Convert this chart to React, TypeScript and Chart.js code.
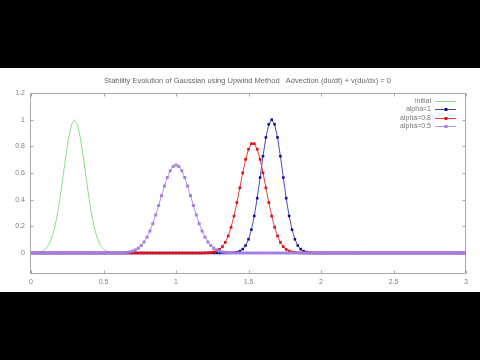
import { useEffect, useRef } from 'react';
import { Chart, registerables } from 'chart.js';

Chart.register(...registerables);

const titleText = 'Stability Evolution of Gaussian using Upwind Method   Advection (du/dt) + v(du/dx) = 0';
const seriesNames = ['initial', 'alpha=1', 'alpha=0.8', 'alpha=0.5'];
const xTicks = [0, 0.5, 1, 1.5, 2, 2.5, 3];
const yTicks = [0, 0.2, 0.4, 0.6, 0.8, 1, 1.2];

const xGrid = [
  0, 0.02, 0.04, 0.06, 0.08, 0.1, 0.12, 0.14, 0.16, 0.18,
  0.2, 0.22, 0.24, 0.26, 0.28, 0.3, 0.32, 0.34, 0.36, 0.38,
  0.4, 0.42, 0.44, 0.46, 0.48, 0.5, 0.52, 0.54, 0.56, 0.58,
  0.6, 0.62, 0.64, 0.66, 0.68, 0.7, 0.72, 0.74, 0.76, 0.78,
  0.8, 0.82, 0.84, 0.86, 0.88, 0.9, 0.92, 0.94, 0.96, 0.98,
  1, 1.02, 1.04, 1.06, 1.08, 1.1, 1.12, 1.14, 1.16, 1.18,
  1.2, 1.22, 1.24, 1.26, 1.28, 1.3, 1.32, 1.34, 1.36, 1.38,
  1.4, 1.42, 1.44, 1.46, 1.48, 1.5, 1.52, 1.54, 1.56, 1.58,
  1.6, 1.62, 1.64, 1.66, 1.68, 1.7, 1.72, 1.74, 1.76, 1.78,
  1.8, 1.82, 1.84, 1.86, 1.88, 1.9, 1.92, 1.94, 1.96, 1.98,
  2, 2.02, 2.04, 2.06, 2.08, 2.1, 2.12, 2.14, 2.16, 2.18,
  2.2, 2.22, 2.24, 2.26, 2.28, 2.3, 2.32, 2.34, 2.36, 2.38,
  2.4, 2.42, 2.44, 2.46, 2.48, 2.5, 2.52, 2.54, 2.56, 2.58,
  2.6, 2.62, 2.64, 2.66, 2.68, 2.7, 2.72, 2.74, 2.76, 2.78,
  2.8, 2.82, 2.84, 2.86, 2.88, 2.9, 2.92, 2.94, 2.96, 2.98,
  3,
];

const initialValues = [
  0, 0.001, 0.003, 0.006, 0.014, 0.029, 0.056, 0.103, 0.175, 0.278,
  0.411, 0.566, 0.726, 0.867, 0.965, 1, 0.965, 0.867, 0.726, 0.566,
  0.411, 0.278, 0.175, 0.103, 0.056, 0.029, 0.014, 0.006, 0.003, 0.001,
  0, 0, 0, 0, 0, 0, 0, 0, 0, 0,
  0, 0, 0, 0, 0, 0, 0, 0, 0, 0,
  0, 0, 0, 0, 0, 0, 0, 0, 0, 0,
  0, 0, 0, 0, 0, 0, 0, 0, 0, 0,
  0, 0, 0, 0, 0, 0, 0, 0, 0, 0,
  0, 0, 0, 0, 0, 0, 0, 0, 0, 0,
  0, 0, 0, 0, 0, 0, 0, 0, 0, 0,
  0, 0, 0, 0, 0, 0, 0, 0, 0, 0,
  0, 0, 0, 0, 0, 0, 0, 0, 0, 0,
  0, 0, 0, 0, 0, 0, 0, 0, 0, 0,
  0, 0, 0, 0, 0, 0, 0, 0, 0, 0,
  0, 0, 0, 0, 0, 0, 0, 0, 0, 0,
  0,
];

const alpha1Values = [
  0, 0, 0, 0, 0, 0, 0, 0, 0, 0,
  0, 0, 0, 0, 0, 0, 0, 0, 0, 0,
  0, 0, 0, 0, 0, 0, 0, 0, 0, 0,
  0, 0, 0, 0, 0, 0, 0, 0, 0, 0,
  0, 0, 0, 0, 0, 0, 0, 0, 0, 0,
  0, 0, 0, 0, 0, 0, 0, 0, 0, 0,
  0, 0, 0, 0, 0, 0, 0, 0, 0, 0.001,
  0.003, 0.006, 0.014, 0.029, 0.056, 0.103, 0.175, 0.278, 0.411, 0.566,
  0.726, 0.867, 0.965, 1, 0.965, 0.867, 0.726, 0.566, 0.411, 0.278,
  0.175, 0.103, 0.056, 0.029, 0.014, 0.006, 0.003, 0.001, 0, 0,
  0, 0, 0, 0, 0, 0, 0, 0, 0, 0,
  0, 0, 0, 0, 0, 0, 0, 0, 0, 0,
  0, 0, 0, 0, 0, 0, 0, 0, 0, 0,
  0, 0, 0, 0, 0, 0, 0, 0, 0, 0,
  0, 0, 0, 0, 0, 0, 0, 0, 0, 0,
  0,
];

const alpha08Values = [
  0, 0, 0, 0, 0, 0, 0, 0, 0, 0,
  0, 0, 0, 0, 0, 0, 0, 0, 0, 0,
  0, 0, 0, 0, 0, 0, 0, 0, 0, 0,
  0, 0, 0, 0, 0, 0, 0, 0, 0, 0,
  0, 0, 0, 0, 0, 0, 0, 0, 0, 0,
  0, 0, 0, 0, 0, 0, 0, 0, 0, 0,
  0.001, 0.002, 0.004, 0.008, 0.015, 0.027, 0.048, 0.08, 0.128, 0.193,
  0.277, 0.378, 0.489, 0.601, 0.702, 0.778, 0.82, 0.82, 0.778, 0.702,
  0.601, 0.489, 0.378, 0.277, 0.193, 0.128, 0.08, 0.048, 0.027, 0.015,
  0.008, 0.004, 0.002, 0.001, 0, 0, 0, 0, 0, 0,
  0, 0, 0, 0, 0, 0, 0, 0, 0, 0,
  0, 0, 0, 0, 0, 0, 0, 0, 0, 0,
  0, 0, 0, 0, 0, 0, 0, 0, 0, 0,
  0, 0, 0, 0, 0, 0, 0, 0, 0, 0,
  0, 0, 0, 0, 0, 0, 0, 0, 0, 0,
  0,
];

const alpha05Values = [
  0, 0, 0, 0, 0, 0, 0, 0, 0, 0,
  0, 0, 0, 0, 0, 0, 0, 0, 0, 0,
  0, 0, 0, 0, 0, 0, 0, 0, 0, 0,
  0, 0.001, 0.003, 0.005, 0.008, 0.014, 0.023, 0.036, 0.056, 0.083,
  0.119, 0.165, 0.22, 0.285, 0.356, 0.43, 0.502, 0.566, 0.616, 0.649,
  0.66, 0.649, 0.616, 0.566, 0.502, 0.43, 0.356, 0.285, 0.22, 0.165,
  0.119, 0.083, 0.056, 0.036, 0.023, 0.014, 0.008, 0.005, 0.003, 0.001,
  0, 0, 0, 0, 0, 0, 0, 0, 0, 0,
  0, 0, 0, 0, 0, 0, 0, 0, 0, 0,
  0, 0, 0, 0, 0, 0, 0, 0, 0, 0,
  0, 0, 0, 0, 0, 0, 0, 0, 0, 0,
  0, 0, 0, 0, 0, 0, 0, 0, 0, 0,
  0, 0, 0, 0, 0, 0, 0, 0, 0, 0,
  0, 0, 0, 0, 0, 0, 0, 0, 0, 0,
  0, 0, 0, 0, 0, 0, 0, 0, 0, 0,
  0,
];

const FONT = "'Liberation Sans', Arial, sans-serif";

const toPoints = (ys: number[]) => ys.map((y, i) => ({ x: xGrid[i], y }));

const framePlugin = {
  id: 'gnuplotFrame',
  beforeDatasetsDraw(chart: any) {
    const { ctx, chartArea } = chart;
    const l = Math.round(chartArea.left) - 0.5;
    const r = Math.round(chartArea.right) - 0.5;
    const t = Math.round(chartArea.top) + 0.5;
    const b = Math.round(chartArea.bottom) + 0.5;
    ctx.save();
    ctx.strokeStyle = '#a8a8a8';
    ctx.lineWidth = 1;
    ctx.strokeRect(l, t, r - l, b - t);
    ctx.beginPath();
    const xs = chart.scales.x;
    const ys = chart.scales.y;
    xTicks.forEach((v) => {
      const px = Math.round(xs.getPixelForValue(v)) + 0.5;
      ctx.moveTo(px, b);
      ctx.lineTo(px, b - 3);
      ctx.moveTo(px, t);
      ctx.lineTo(px, t + 3);
    });
    yTicks.forEach((v) => {
      const py = Math.round(ys.getPixelForValue(v)) + 0.5;
      ctx.moveTo(l, py);
      ctx.lineTo(l + 3, py);
      ctx.moveTo(r, py);
      ctx.lineTo(r - 3, py);
    });
    ctx.stroke();
    ctx.restore();
  },
  afterDraw(chart: any) {
    const { ctx, chartArea } = chart;
    ctx.save();
    ctx.fillStyle = '#666666';
    ctx.font = `7.5px ${FONT}`;
    ctx.textAlign = 'center';
    ctx.textBaseline = 'middle';
    ctx.fillText(titleText, (chartArea.left + chartArea.right) / 2 - 1, 13);

    ctx.font = `7px ${FONT}`;
    chart.data.datasets.forEach((ds: any, i: number) => {
      const y = 33 + i * 8.4;
      ctx.fillStyle = '#777777';
      ctx.textAlign = 'right';
      ctx.fillText(ds.label, 431, y);
      ctx.strokeStyle = ds.borderColor;
      ctx.lineWidth = 1;
      ctx.beginPath();
      ctx.moveTo(435, Math.round(y) + 0.5);
      ctx.lineTo(456, Math.round(y) + 0.5);
      ctx.stroke();
      if (ds.pointRadius > 0) {
        ctx.fillStyle = ds.pointBackgroundColor;
        ctx.fillRect(444.5, Math.round(y) - 1, 3, 3);
      }
    });
    ctx.restore();
  },
};

export default function App() {
  const canvasRef = useRef<HTMLCanvasElement | null>(null);

  useEffect(() => {
    document.body.style.margin = '0';
    document.body.style.background = '#000';
    const canvas = canvasRef.current;
    if (!canvas) return;
    const chart = new Chart(canvas, {
      type: 'line',
      data: {
        datasets: [
          {
            label: seriesNames[0],
            data: toPoints(initialValues),
            borderColor: '#8fdc8f',
            borderWidth: 1,
            pointRadius: 0,
            tension: 0,
            order: 4,
          },
          {
            label: seriesNames[1],
            data: toPoints(alpha1Values),
            borderColor: '#4a4ac4',
            borderWidth: 1,
            pointStyle: 'rect',
            pointRadius: 1.8,
            pointBorderWidth: 0,
            pointBackgroundColor: '#0c0c9c',
            tension: 0,
            order: 3,
          },
          {
            label: seriesNames[2],
            data: toPoints(alpha08Values),
            borderColor: '#ea4040',
            borderWidth: 1,
            pointStyle: 'rect',
            pointRadius: 1.9,
            pointBorderWidth: 0,
            pointBackgroundColor: '#e01010',
            tension: 0,
            order: 2,
          },
          {
            label: seriesNames[3],
            data: toPoints(alpha05Values),
            borderColor: '#b892f2',
            borderWidth: 1,
            pointStyle: 'rect',
            pointRadius: 2.1,
            pointBorderWidth: 0,
            pointBackgroundColor: '#a47ce6',
            tension: 0,
            order: 1,
          },
        ],
      },
      options: {
        animation: false,
        responsive: false,
        maintainAspectRatio: false,
        events: [],
        layout: { padding: { top: 25, right: 14, left: 0, bottom: 0 } },
        plugins: {
          legend: { display: false },
          title: { display: false },
          tooltip: { enabled: false },
        },
        scales: {
          x: {
            type: 'linear',
            min: 0,
            max: 3,
            afterBuildTicks: (s: any) => {
              s.ticks = xTicks.map((v) => ({ value: v }));
            },
            afterFit: (s: any) => {
              s.height = 19;
            },
            grid: { display: false, drawTicks: false },
            border: { display: false },
            ticks: {
              color: '#808080',
              font: { family: FONT, size: 7 },
              padding: 5,
              maxRotation: 0,
              autoSkip: false,
              callback: (v: any) => String(v),
            },
          },
          y: {
            type: 'linear',
            min: -0.15,
            max: 1.2,
            afterBuildTicks: (s: any) => {
              s.ticks = yTicks.map((v) => ({ value: v }));
            },
            afterFit: (s: any) => {
              s.width = 31;
            },
            grid: { display: false, drawTicks: false },
            border: { display: false },
            ticks: {
              color: '#808080',
              font: { family: FONT, size: 7 },
              padding: 6,
              autoSkip: false,
              callback: (v: any) => String(v),
            },
          },
        },
      },
      plugins: [framePlugin],
    } as any);
    return () => chart.destroy();
  }, []);

  return (
    <div style={{ position: 'fixed', left: 0, top: 0, width: 480, height: 360, background: '#000' }}>
      <canvas
        ref={canvasRef}
        width={480}
        height={224}
        style={{ position: 'absolute', left: 0, top: 68, width: 480, height: 224, background: '#fff', display: 'block' }}
      />
    </div>
  );
}
